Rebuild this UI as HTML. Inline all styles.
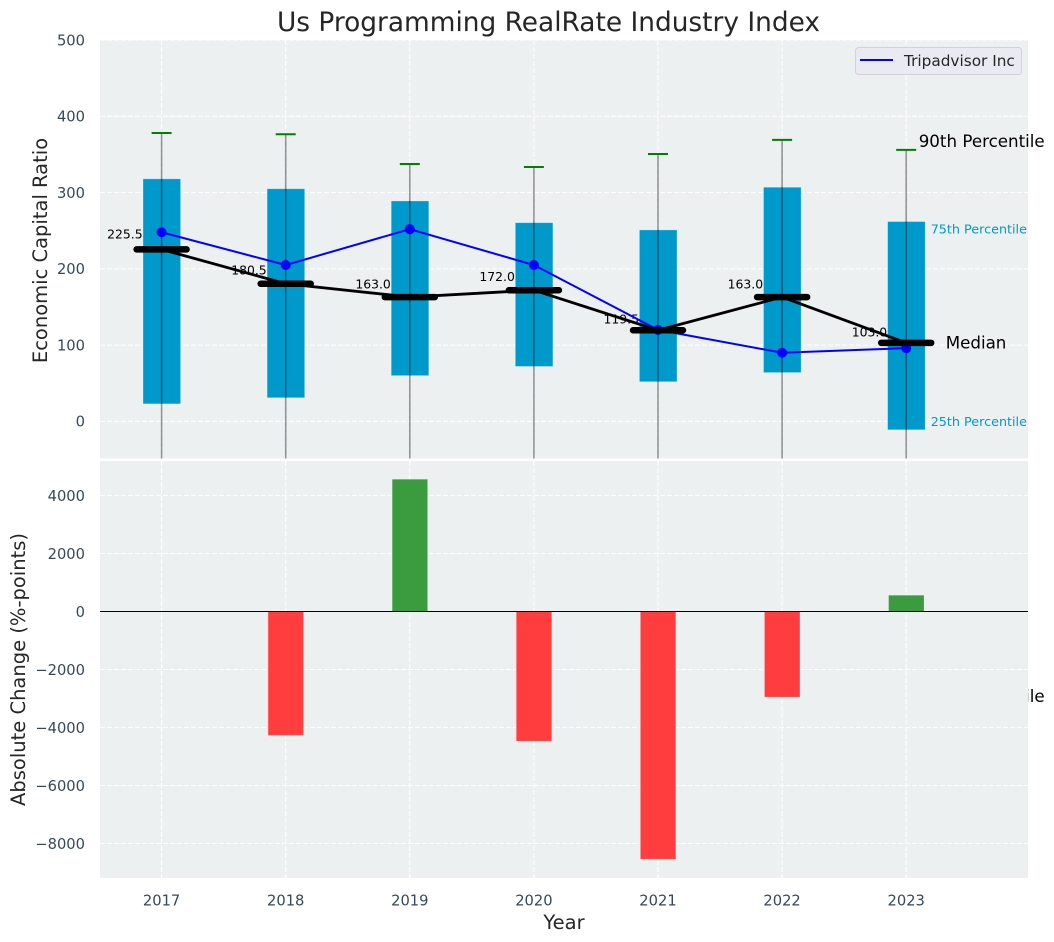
<!DOCTYPE html>
<html lang="en">
<head>
<meta charset="utf-8">
<title>Us Programming RealRate Industry Index</title>
<style>
html,body{margin:0;padding:0;background:#fff;}
svg{display:block;font-family:"DejaVu Sans","Liberation Sans",sans-serif;}
</style>
</head>
<body>
<svg id="chart" xmlns="http://www.w3.org/2000/svg" width="1054" height="942" viewBox="0 0 1054 942">
  <defs>
    <clipPath id="top-clip"><rect x="100" y="40" width="928" height="418.5"/></clipPath>
    <clipPath id="bottom-clip"><rect x="100" y="461" width="928" height="417"/></clipPath>
  </defs>
  <text x="548.5" y="31" text-anchor="middle" font-size="26.4" fill="#262626">Us Programming RealRate Industry Index</text>
  <text transform="translate(47,250.5) rotate(-90)" text-anchor="middle" font-size="19.5" fill="#262626">Economic Capital Ratio</text>
  <text transform="translate(25,669.5) rotate(-90)" text-anchor="middle" font-size="19.5" fill="#262626">Absolute Change (%-points)</text>
  <text x="564" y="929" text-anchor="middle" font-size="19.5" fill="#262626">Year</text>
  <g id="top-panel"></g>
  <g id="bottom-panel"></g>
  <g id="legend">
    <rect x="855.5" y="47.5" width="166" height="27" rx="3" fill="#eaeaf2" fill-opacity="0.9" stroke="#d2d2d8"/>
    <line x1="860" y1="60" x2="893" y2="60" stroke="#0000ff" stroke-width="2"/>
    <text x="904" y="66" font-size="15.3" fill="#262626">Tripadvisor Inc</text>
  </g>
</svg>
<script>
var years = [2017, 2018, 2019, 2020, 2021, 2022, 2023];
var q1Values = [23, 31, 60, 72, 52, 64, -11];
var q3Values = [318, 305, 289, 260.5, 251, 307, 262];
var p90Values = [378, 376.5, 337.5, 333.5, 350.5, 369, 356];
var p10Values = [-120, -130, -150, -140, -170, -150, -360];
var medianValues = [225.5, 180.5, 163, 172, 119.5, 163, 103];
var companyValues = [248, 205, 252, 205, 120, 90, 96];
var changeValues = [0, -4270, 4560, -4470, -8540, -2950, 560];
var topTicks = [0, 100, 200, 300, 400, 500];
var bottomTicks = [-8000, -6000, -4000, -2000, 0, 2000, 4000];

var NS = 'http://www.w3.org/2000/svg';
function xPos(year) { return 161.6 + (year - 2017) * 124.1; }
function yTop(v) { return 421.4 - v * 0.7628; }
function yBottom(v) { return 611.5 - v * 0.029; }
function mk(tag, attrs, parent) {
  var el = document.createElementNS(NS, tag);
  for (var k in attrs) { el.setAttribute(k, attrs[k]); }
  parent.appendChild(el);
  return el;
}
var el;
var topPanel = document.getElementById('top-panel');
var bottomPanel = document.getElementById('bottom-panel');
var GRID = '#ffffff';
var TICK = '#34495e';
var TICK_SIZE = 14.7;

/* top panel background and grid */
el = mk('rect', {x: 100, y: 40, width: 928, height: 418.5, fill: '#ecf0f1'}, topPanel);



topTicks.forEach(function (t) {
  var y = yTop(t);
  el = mk('line', {x1: 100, x2: 1028, y1: y, y2: y, stroke: GRID, 'stroke-width': 1, 'stroke-dasharray': '5 2'}, topPanel);
  
  
  el = mk('text', {x: 85, y: y + 5.3, 'text-anchor': 'end', 'font-size': TICK_SIZE, fill: TICK}, topPanel);
  
  
  el.textContent = t;
});

years.forEach(function (yr) {
  el = mk('line', {x1: xPos(yr), x2: xPos(yr), y1: 40, y2: 458.5, stroke: GRID, 'stroke-width': 1, 'stroke-dasharray': '5 2'}, topPanel);
  
  
});

/* median value labels sit under the marks */
years.forEach(function (yr, i) {
  el = mk('text', {x: xPos(yr) - 19, y: yTop(medianValues[i] * 1.05) - 2.4, 'text-anchor': 'end', 'font-size': 12.4, fill: '#000'}, topPanel);
  
  
  el.textContent = medianValues[i].toFixed(1);
});

var topMarks = mk('g', {'clip-path': 'url(#top-clip)'}, topPanel);



years.forEach(function (yr, i) {
  var cx = xPos(yr);
  var t = yTop(q3Values[i]);
  var b = yTop(q1Values[i]);
  el = mk('rect', {x: cx - 18.6, y: t, width: 37.6, height: b - t, fill: '#0099cc', stroke: '#ffffff', 'stroke-opacity': 0.35, 'stroke-width': 0.8}, topMarks);
  
  
  el = mk('line', {x1: cx, x2: cx, y1: yTop(p90Values[i]), y2: yTop(p10Values[i]), stroke: '#000', 'stroke-opacity': 0.42, 'stroke-width': 1.5}, topMarks);
  
  
  el = mk('line', {x1: cx - 10, x2: cx + 10, y1: yTop(p90Values[i]), y2: yTop(p90Values[i]), stroke: '#008000', 'stroke-width': 2}, topMarks);
  
  
});

var bluePts = years.map(function (yr, i) { return xPos(yr) + ',' + yTop(companyValues[i]); }).join(' ');
el = mk('polyline', {points: bluePts, fill: 'none', stroke: '#0000ff', 'stroke-width': 2}, topMarks);


years.forEach(function (yr, i) {
  el = mk('circle', {cx: xPos(yr), cy: yTop(companyValues[i]), r: 5, fill: '#0000ff'}, topMarks);
  
  
});

var medianPts = years.map(function (yr, i) { return xPos(yr) + ',' + yTop(medianValues[i]); }).join(' ');
el = mk('polyline', {points: medianPts, fill: 'none', stroke: '#000', 'stroke-width': 2.8, 'stroke-linejoin': 'round'}, topMarks);


years.forEach(function (yr, i) {
  var cx = xPos(yr);
  el = mk('line', {x1: cx - 25, x2: cx + 25, y1: yTop(medianValues[i]), y2: yTop(medianValues[i]), stroke: '#000', 'stroke-width': 6.5, 'stroke-linecap': 'round'}, topMarks);
  
  
});

/* annotations on the last year */
var last = years.length - 1;
var lastX = xPos(years[last]);
el = mk('text', {x: lastX + 12.5, y: yTop(p90Values[last]) - 3, 'font-size': 16.7, fill: '#000'}, topPanel);


el.textContent = '90th Percentile';
el = mk('text', {x: lastX + 24.5, y: yTop(q3Values[last]) + 12, 'font-size': 12.75, fill: '#0099cc'}, topPanel);


el.textContent = '75th Percentile';
el = mk('text', {x: lastX + 24.5, y: yTop(q1Values[last]) - 4, 'font-size': 12.75, fill: '#0099cc'}, topPanel);


el.textContent = '25th Percentile';
el = mk('text', {x: lastX + 39.5, y: yTop(medianValues[last]) + 5.5, 'font-size': 16.7, fill: '#000'}, topPanel);


el.textContent = 'Median';
el = mk('text', {x: lastX + 12.5, y: yTop(p10Values[last]) + 6, 'font-size': 16.7, fill: '#000'}, topPanel);


el.textContent = '10th Percentile';

/* bottom panel is painted over the overflowing annotation */
el = mk('rect', {x: 100, y: 461, width: 928, height: 417, fill: '#ecf0f1'}, bottomPanel);



bottomTicks.forEach(function (t) {
  var y = yBottom(t);
  el = mk('line', {x1: 100, x2: 1028, y1: y, y2: y, stroke: GRID, 'stroke-width': 1, 'stroke-dasharray': '5 2'}, bottomPanel);
  
  
  el = mk('text', {x: 85, y: y + 5.3, 'text-anchor': 'end', 'font-size': TICK_SIZE, fill: TICK}, bottomPanel);
  
  
  el.textContent = String(t).replace('-', '\u2212');
});

years.forEach(function (yr) {
  el = mk('line', {x1: xPos(yr), x2: xPos(yr), y1: 461, y2: 878, stroke: GRID, 'stroke-width': 1, 'stroke-dasharray': '5 2'}, bottomPanel);
  
  
  el = mk('text', {x: xPos(yr), y: 905.3, 'text-anchor': 'middle', 'font-size': TICK_SIZE, fill: TICK}, bottomPanel);
  
  
  el.textContent = yr;
});

var bottomMarks = mk('g', {'clip-path': 'url(#bottom-clip)'}, bottomPanel);



years.forEach(function (yr, i) {
  var v = changeValues[i];
  if (v === 0) { return; }
  var y0 = yBottom(0);
  var y1 = yBottom(v);
  el = mk('rect', {x: xPos(yr) - 17.6, y: Math.min(y0, y1), width: 35.4, height: Math.abs(y1 - y0), fill: v >= 0 ? '#3b9c3f' : '#ff3d3f', stroke: '#ffffff', 'stroke-opacity': 0.2, 'stroke-width': 0.8}, bottomMarks);
  
  
});

el = mk('line', {x1: 100, x2: 1028, y1: yBottom(0), y2: yBottom(0), stroke: '#000', 'stroke-width': 1.1}, bottomMarks);


</script>
</body>
</html>
